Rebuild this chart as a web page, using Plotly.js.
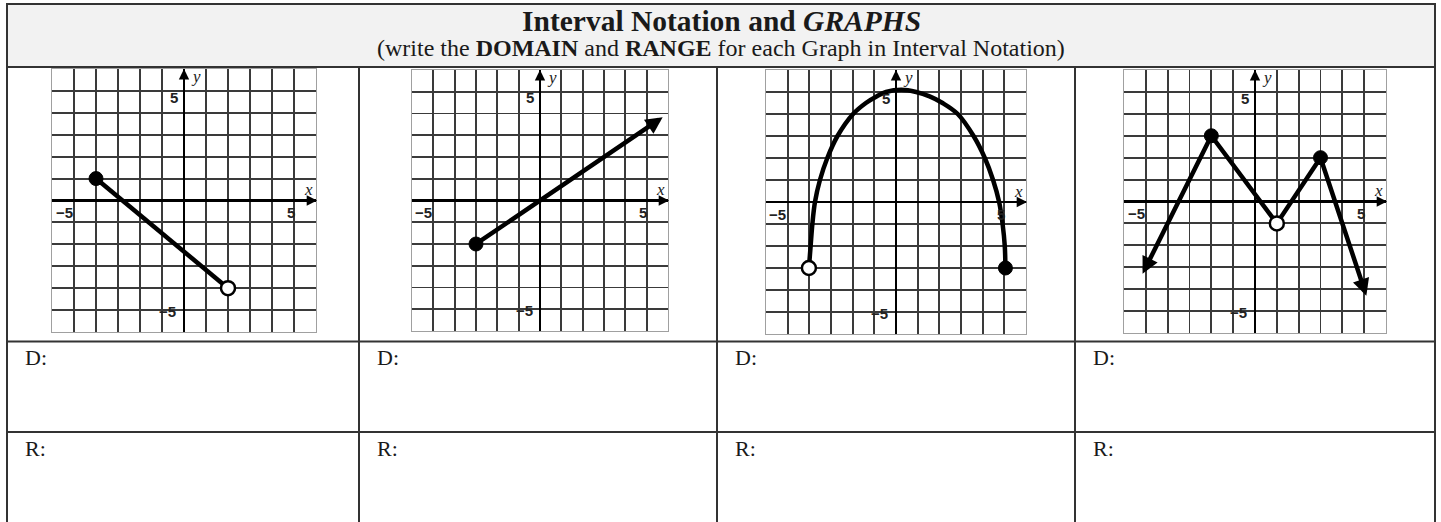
<!DOCTYPE html>
<html><head><meta charset="utf-8">
<script src="https://cdn.plot.ly/plotly-3.0.1.min.js"></script>
<style>html,body{margin:0;padding:0;background:#fff}</style>
</head><body>
<div id="chart" style="width:1441px;height:522px"></div>
<script>
// ---------- text ----------
const titleText = 'Interval Notation and <i>GRAPHS</i>';
const subtitleText = '(write the <b>DOMAIN</b> and <b>RANGE</b> for each Graph in Interval Notation)';
const rowLabels = ['D:', 'R:'];
const tickLabelNeg = '\u22125';
const tickLabelPos = '5';
const axisNames = ['x', 'y'];
const gridVals = [-5, -4, -3, -2, -1, 0, 1, 2, 3, 4, 5];

// ---------- graph 1: segment ----------
const g1X = [-4, 2];
const g1Y = [1, -4];
const g1Ends = ['closed', 'open'];

// ---------- graph 2: ray ----------
const g2X = [-3, 5.75];
const g2Y = [-2, 3.83];
const g2Ends = ['closed', 'arrow'];

// ---------- graph 3: arch ----------
const g3X = [-4.02, -3.94, -3.86, -3.74, -3.51, -3.17, -2.7, -1.98, -1.39, -0.9, -0.46, 0.25, 0.93, 1.55, 2.15, 2.85, 3.58, 4.1, 4.48, 4.76, 4.92, 5.02, 5.05];
const g3Y = [-3, -2, -1, 0, 1, 2, 3, 4, 4.5, 4.8, 5, 5.1, 5, 4.8, 4.5, 4, 3, 2, 1, 0, -1, -2, -3];
const g3Ends = ['open', 'closed'];

// ---------- graph 4: zig-zag ----------
const g4X = [-5.15, -2, 1, 3, 5.1];
const g4Y = [-3.3, 3, -1, 2, -4.3];
const g4Ends = ['arrow', 'arrow'];
const g4InnerClosedX = [-2, 3];
const g4InnerClosedY = [3, 2];
const g4InnerOpenX = [1];
const g4InnerOpenY = [-1];

// ---------- layout helpers (pixels -> paper) ----------
const W = 1441, H = 522;
const px = x => x / W;
const py = y => 1 - y / H;

const boxes = [
  {x0: 52, x1: 316, y0: 69, y1: 332},
  {x0: 412, x1: 668, y0: 70, y1: 331},
  {x0: 766, x1: 1026, y0: 70, y1: 334},
  {x0: 1124, x1: 1386, y0: 70, y1: 333}
];

const graphs = [
  {x: g1X, y: g1Y, ends: g1Ends, shape: 'linear'},
  {x: g2X, y: g2Y, ends: g2Ends, shape: 'linear'},
  {x: g3X, y: g3Y, ends: g3Ends, shape: 'spline'},
  {x: g4X, y: g4Y, ends: g4Ends, shape: 'linear',
   innerClosed: {x: g4InnerClosedX, y: g4InnerClosedY},
   innerOpen: {x: g4InnerOpenX, y: g4InnerOpenY}}
];

const traces = [];
const annotations = [];
const layout = {
  width: W, height: H,
  margin: {l: 0, r: 0, t: 0, b: 0},
  paper_bgcolor: '#ffffff', plot_bgcolor: '#ffffff',
  showlegend: false, hovermode: false,
  font: {family: 'Liberation Serif, serif', color: '#1a1a1a'}
};

function axisCfg(domain, anchor) {
  return {
    domain: domain, anchor: anchor, range: [-6, 6],
    tickmode: 'array', tickvals: gridVals, showticklabels: false, ticks: '',
    showgrid: true, gridcolor: '#3a3a3a', gridwidth: 1.9,
    zeroline: true, zerolinecolor: '#000', zerolinewidth: 2.6,
    showline: true, linecolor: '#a0a0a0', linewidth: 1.2, mirror: true,
    fixedrange: true
  };
}

graphs.forEach((g, i) => {
  const k = i + 1;
  const xa = k === 1 ? 'x' : 'x' + k;
  const ya = k === 1 ? 'y' : 'y' + k;
  const b = boxes[i];
  layout[k === 1 ? 'xaxis' : 'xaxis' + k] = axisCfg([px(b.x0), px(b.x1)], ya);
  layout[k === 1 ? 'yaxis' : 'yaxis' + k] = axisCfg([py(b.y1), py(b.y0)], xa);

  const n = g.x.length;
  let s = 0, e = n - 1;
  if (g.ends[0] === 'arrow') s = 1;
  if (g.ends[1] === 'arrow') e = n - 2;
  if (e > s) {
    traces.push({
      type: 'scatter', mode: 'lines', xaxis: xa, yaxis: ya,
      x: g.x.slice(s, e + 1), y: g.y.slice(s, e + 1),
      line: {color: '#000', width: 4.5, shape: g.shape, smoothing: 1}
    });
  }
  // arrows
  const arrow = (tipI, tailI) => annotations.push({
    xref: xa, yref: ya, axref: xa, ayref: ya,
    x: g.x[tipI], y: g.y[tipI], ax: g.x[tailI], ay: g.y[tailI],
    text: '', showarrow: true, arrowhead: 2, arrowsize: 0.75,
    arrowwidth: 4.5, arrowcolor: '#000', standoff: 0, startstandoff: 0
  });
  if (g.ends[0] === 'arrow') arrow(0, 1);
  if (g.ends[1] === 'arrow') arrow(n - 1, n - 2);

  // end markers
  const closedX = [], closedY = [], openX = [], openY = [];
  [[0, g.ends[0]], [n - 1, g.ends[1]]].forEach(([idx, t]) => {
    if (t === 'closed') { closedX.push(g.x[idx]); closedY.push(g.y[idx]); }
    if (t === 'open') { openX.push(g.x[idx]); openY.push(g.y[idx]); }
  });
  if (g.innerClosed) { closedX.push(...g.innerClosed.x); closedY.push(...g.innerClosed.y); }
  if (g.innerOpen) { openX.push(...g.innerOpen.x); openY.push(...g.innerOpen.y); }
  if (closedX.length) traces.push({
    type: 'scatter', mode: 'markers', xaxis: xa, yaxis: ya, x: closedX, y: closedY,
    marker: {color: '#000', size: 14, line: {color: '#000', width: 1}}
  });
  if (openX.length) traces.push({
    type: 'scatter', mode: 'markers', xaxis: xa, yaxis: ya, x: openX, y: openY,
    marker: {color: '#fff', size: 14, line: {color: '#000', width: 2.5}}
  });

  // axis arrows
  annotations.push({xref: xa, yref: ya, axref: xa, ayref: ya, x: 6.05, y: 0, ax: 5.2, ay: 0,
    text: '', showarrow: true, arrowhead: 2, arrowsize: 1.3, arrowwidth: 1.6, arrowcolor: '#000', standoff: 0});
  annotations.push({xref: xa, yref: ya, axref: xa, ayref: ya, x: 0, y: 6.0, ax: 0, ay: 5.2,
    text: '', showarrow: true, arrowhead: 2, arrowsize: 1.3, arrowwidth: 1.6, arrowcolor: '#000', standoff: 0});

  // axis names and tick numbers
  const lab = (x, y, t, f) => annotations.push({xref: xa, yref: ya, x: x, y: y, text: t, showarrow: false,
    xanchor: 'center', yanchor: 'middle', font: f});
  const numFont = {family: 'Liberation Sans, Arial, sans-serif', size: 15, color: '#222', weight: 'bold'};
  const nameFont = {family: 'Liberation Serif, serif', size: 17, color: '#1a1a1a'};
  lab(5.65, 0.5, '<i>' + axisNames[0] + '</i>', nameFont);
  lab(0.55, 5.65, '<i>' + axisNames[1] + '</i>', nameFont);
  lab(-0.45, 4.72, tickLabelPos, numFont);
  lab(-0.75, -5.05, tickLabelNeg, numFont);
  lab(-5.45, -0.55, tickLabelNeg, numFont);
  lab(4.85, -0.55, tickLabelPos, numFont);
});

// ---------- table frame ----------
const L = 7, R = 1435, T = 4, HB = 67, ROW1 = 341.5, ROW2 = 432;
const cols = [359, 717, 1075];
const lineCol = '#333';
const shapes = [
  {type: 'rect', xref: 'paper', yref: 'paper', x0: px(L), x1: px(R), y0: py(HB), y1: py(T),
   fillcolor: '#f2f2f2', line: {color: lineCol, width: 2}, layer: 'below'}
];
const hline = y => shapes.push({type: 'line', xref: 'paper', yref: 'paper', x0: px(L), x1: px(R), y0: py(y), y1: py(y),
  line: {color: lineCol, width: 2}});
const vline = (x, y0, y1) => shapes.push({type: 'line', xref: 'paper', yref: 'paper', x0: px(x), x1: px(x), y0: py(y0), y1: py(y1),
  line: {color: lineCol, width: 2}});
hline(ROW1); hline(ROW2);
vline(L, T, H); vline(R, T, H);
cols.forEach(c => vline(c, HB, H));

annotations.push({xref: 'paper', yref: 'paper', x: px(721), y: py(21), text: '<b>' + titleText + '</b>',
  showarrow: false, xanchor: 'center', yanchor: 'middle',
  font: {family: 'Liberation Serif, serif', size: 29.5, color: '#1a1a1a'}});
annotations.push({xref: 'paper', yref: 'paper', x: px(721), y: py(48), text: subtitleText,
  showarrow: false, xanchor: 'center', yanchor: 'middle',
  font: {family: 'Liberation Serif, serif', size: 24, color: '#1a1a1a'}});

const colLefts = [L, cols[0], cols[1], cols[2]];
colLefts.forEach(c => {
  annotations.push({xref: 'paper', yref: 'paper', x: px(c + 16), y: py(357), text: rowLabels[0],
    showarrow: false, xanchor: 'left', yanchor: 'middle',
    font: {family: 'Liberation Serif, serif', size: 22, color: '#1a1a1a'}});
  annotations.push({xref: 'paper', yref: 'paper', x: px(c + 16), y: py(448), text: rowLabels[1],
    showarrow: false, xanchor: 'left', yanchor: 'middle',
    font: {family: 'Liberation Serif, serif', size: 22, color: '#1a1a1a'}});
});

layout.shapes = shapes;
layout.annotations = annotations;

Plotly.newPlot('chart', traces, layout, {staticPlot: true, displayModeBar: false});
</script>
</body></html>
